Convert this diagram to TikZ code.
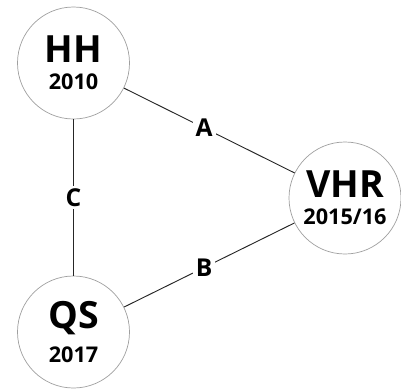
\documentclass[tikz,border=0pt]{standalone}
\usepackage{fontspec}
\setmainfont{Open Sans}

\tikzset{
    city/.style={draw=gray!75, line width=0.6pt, circle, minimum size=3.36cm, inner sep=0pt, align=center},
    link/.style={draw=black!85, line width=0.8pt},
    linklabel/.style={fill=white, inner sep=2.5pt, font=\fontsize{21}{21}\selectfont\bfseries},
}
\newcommand{\cityname}[2]{{\fontsize{32}{32}\selectfont\bfseries #1}\\[9pt]{\fontsize{18.5}{19}\selectfont\bfseries #2}}

\begin{document}
\begin{tikzpicture}[x=0.03cm, y=-0.03cm]
    \useasboundingbox (0,0) rectangle (401,389);

    \node[city] (hh) at (73.5,63) {\cityname{HH}{2010}};
    \node[city] (vhr) at (345,198) {\cityname{VHR}{2015/16}};
    \node[city] (qs) at (73.5,332) {\cityname{QS}{2017}};

    \draw[link] (hh) -- node[linklabel, pos=0.47] (lblA) {A} (vhr);
    \draw[link] (qs) -- node[linklabel, pos=0.47] (lblB) {B} (vhr);
    \draw[link] (hh) -- node[linklabel, pos=0.5] (lblC) {C} (qs);
\end{tikzpicture}
\end{document}
